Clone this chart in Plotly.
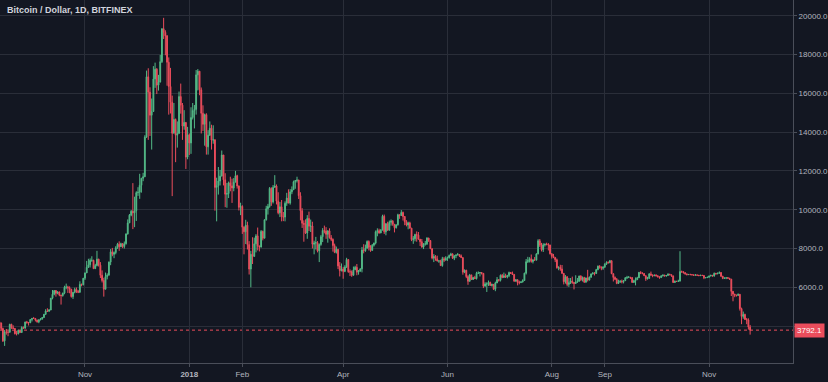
import pandas as pd
import plotly.graph_objects as go

start_date = "2017-09-12"
first_open = 4220

close = [
    # 2017-09 (12..30)
    4160, 3870, 3240, 3700, 3690, 3680, 4090, 3910, 3880, 3610, 3600, 3780, 3670, 3930, 3890, 4210, 4190, 4170, 4340,
    # 2017-10
    4400, 4390, 4310, 4220, 4320, 4370, 4440, 4610, 4780, 4760, 4830, 5440, 5640, 5830, 5690, 5760, 5600, 5570, 5700, 6000,
    6010, 5980, 5900, 5520, 5740, 5890, 5780, 5750, 6150, 6130, 6470,
    # 2017-11
    6740, 7030, 7160, 7390, 7390, 6960, 7120, 7450, 7140, 6620, 6350, 5900, 6550, 6620, 7300, 7830, 7700, 7790, 8040, 8220,
    8090, 8250, 8100, 8250, 8750, 9320, 9720, 9920, 9840, 9950,
    # 2017-12
    10880, 10900, 11260, 11620, 11700, 13740, 16850, 16060, 14870, 15060, 16740, 17240, 16420, 16580, 17630, 19330, 19140,
    18960, 17600, 16350, 15540, 13940, 14650, 13840, 13930, 15830, 15390, 14310, 14500, 12710, 13860,
    # 2018-01
    13440, 14750, 15110, 15170, 16950, 17140, 16180, 14970, 14400, 14900, 13240, 13840, 14200, 13590, 13600, 11150, 11240,
    11480, 11730, 12820, 11540, 10800, 10830, 11390, 11230, 11120, 11420, 11750, 11220, 10120, 10170,
    # 2018-02
    9100, 8860, 9200, 8200, 6940, 7700, 7590, 8240, 8650, 8130, 8070, 8880, 8530, 9480, 10050, 10170, 11100, 10400, 11150,
    11220, 10440, 9840, 10150, 9640, 9620, 10330, 10600, 10340,
    # 2018-03
    10920, 11030, 11440, 11500, 11530, 10720, 9950, 9300, 9250, 8800, 9550, 9150, 9160, 8220, 8280, 8300, 7880, 8210, 8610,
    8930, 8900, 8730, 8910, 8560, 8470, 8150, 7800, 7960, 7100, 6860, 6940,
    # 2018-04
    6820, 7050, 7430, 6800, 6800, 6620, 6900, 7030, 6780, 6840, 6950, 7920, 7890, 8010, 8360, 8060, 7900, 8170, 8280, 8860,
    8920, 8800, 8950, 9660, 8860, 9280, 8940, 9350, 9410, 9250,
    # 2018-05
    9070, 9220, 9740, 9700, 9860, 9650, 9380, 9210, 9320, 9050, 8460, 8500, 8720, 8690, 8480, 8350, 8070, 8240, 8240, 8540,
    8410, 7990, 7510, 7590, 7470, 7350, 7360, 7120, 7470, 7400, 7500,
    # 2018-06
    7530, 7640, 7720, 7500, 7630, 7660, 7690, 7620, 7530, 6780, 6880, 6550, 6310, 6640, 6400, 6500, 6450, 6720, 6740, 6760,
    6720, 6060, 6170, 6170, 6250, 6090, 6150, 5900, 6220, 6390,
    # 2018-07
    6360, 6620, 6510, 6590, 6530, 6610, 6760, 6710, 6660, 6310, 6390, 6250, 6240, 6270, 6350, 6730, 7320, 7380, 7470, 7330,
    7410, 7400, 7720, 8400, 8170, 7940, 8190, 8230, 8210, 8180, 7730,
    # 2018-08
    7600, 7540, 7420, 7010, 7030, 6940, 6720, 6290, 6540, 6150, 6240, 6320, 6250, 6200, 6270, 6310, 6580, 6390, 6500, 6260,
    6480, 6370, 6530, 6690, 6730, 6710, 6910, 7090, 7050, 6980, 7030,
    # 2018-09
    7190, 7280, 7270, 7370, 6700, 6510, 6410, 6200, 6260, 6310, 6290, 6340, 6490, 6500, 6520, 6500, 6250, 6340, 6390, 6490,
    6770, 6720, 6710, 6600, 6440, 6460, 6690, 6640, 6600, 6630,
    # 2018-10
    6590, 6540, 6500, 6590, 6630, 6580, 6610, 6680, 6650, 6590, 6250, 6310, 6300, 6320, 6810, 6800, 6750, 6690, 6650, 6660,
    6650, 6640, 6620, 6640, 6620, 6600, 6620, 6610, 6490, 6500, 6520,
    # 2018-11 (1..25)
    6580, 6620, 6580, 6720, 6690, 6720, 6760, 6570, 6460, 6480, 6490, 6470, 6420, 5790, 5650, 5590, 5580, 5640, 4900, 4500,
    4600, 4340, 4320, 3950, 3792.1,
]

high = [
    # 2017-09
    4380, 4180, 3920, 3800, 3850, 3760, 4120, 4120, 4040, 3900, 3760, 3810, 3790, 3990, 3980, 4230, 4270, 4200, 4360,
    # 2017-10
    4410, 4470, 4420, 4330, 4360, 4410, 4470, 4620, 4870, 4920, 4880, 5450, 5860, 5850, 5860, 5800, 5780, 5610, 5720, 6080,
    6190, 6080, 6050, 5920, 5760, 5980, 5990, 5860, 6310, 6190, 6470,
    # 2017-11
    6760, 7360, 7470, 7490, 7600, 7420, 7210, 7880, 7470, 7300, 6870, 6490, 6760, 6720, 7330, 7970, 8030, 7850, 8120, 8290,
    8370, 8300, 8270, 8360, 8780, 9500, 9780, 9980, 11370, 10670,
    # 2017-12
    10950, 11160, 11850, 11640, 11900, 13840, 17170, 17290, 16310, 15730, 17400, 17580, 17300, 16950, 17980, 19340, 19890,
    19250, 19000, 17850, 17310, 15880, 15500, 14700, 14550, 16090, 16500, 15500, 15130, 14500, 14270,
    # 2018-01
    13930, 15280, 15500, 15400, 17200, 17250, 17140, 16300, 15380, 14950, 14970, 14100, 14550, 14380, 14350, 13630, 11650,
    12200, 12050, 13050, 12820, 11880, 11380, 11450, 11700, 11600, 11630, 12000, 11800, 11250, 10360,
    # 2018-02
    10230, 9150, 9480, 9380, 8380, 7880, 8580, 8560, 8740, 9080, 8150, 8950, 8920, 9500, 10200, 10300, 11170, 11150, 11270,
    11780, 11300, 10900, 10400, 10500, 9880, 10430, 10870, 11050,
    # 2018-03
    11060, 11200, 11500, 11530, 11700, 11540, 10900, 10080, 9450, 9500, 9720, 9900, 9490, 9380, 8400, 8600, 8380, 8260, 8700,
    9050, 9180, 9100, 8930, 9040, 8690, 8520, 8250, 8100, 7960, 7300, 7230,
    # 2018-04
    7050, 7140, 7520, 7440, 6920, 6870, 7070, 7110, 7200, 6890, 6980, 8080, 8220, 8200, 8420, 8420, 8170, 8230, 8300, 8930,
    9040, 9020, 9000, 9740, 9750, 9300, 9380, 9440, 9500, 9460,
    # 2018-05
    9260, 9250, 9790, 9750, 9980, 9900, 9670, 9460, 9380, 9380, 9060, 8640, 8760, 8880, 8850, 8490, 8490, 8270, 8390, 8580,
    8550, 8420, 8000, 7710, 7660, 7630, 7400, 7420, 7570, 7560, 7600,
    # 2018-06
    7580, 7690, 7780, 7750, 7640, 7700, 7770, 7700, 7690, 7540, 6920, 6900, 6620, 6690, 6640, 6540, 6590, 6800, 6820, 6790,
    6780, 6720, 6260, 6260, 6350, 6290, 6190, 6170, 6290, 6530,
    # 2018-07
    6420, 6660, 6690, 6760, 6700, 6640, 6810, 6790, 6810, 6690, 6420, 6400, 6340, 6320, 6410, 6750, 7460, 7570, 7550, 7690,
    7450, 7560, 7760, 8480, 8490, 8290, 8270, 8240, 8300, 8280, 8190,
    # 2018-08
    7760, 7720, 7550, 7480, 7080, 7160, 7150, 6730, 6630, 6570, 6480, 6480, 6550, 6260, 6620, 6480, 6600, 6620, 6560, 6540,
    6500, 6900, 6550, 6710, 6780, 6780, 6950, 7120, 7140, 7070, 7090,
    # 2018-09
    7240, 7340, 7340, 7410, 7390, 6720, 6560, 6480, 6390, 6370, 6400, 6350, 6530, 6590, 6580, 6530, 6510, 6390, 6510, 6540,
    6790, 6830, 6780, 6720, 6600, 6540, 6730, 6810, 6660, 6650,
    # 2018-10
    6670, 6620, 6560, 6620, 6660, 6640, 6630, 6720, 6690, 6650, 6590, 6350, 6330, 6390, 7860, 6860, 6820, 6780, 6710, 6690,
    6700, 6680, 6660, 6680, 6650, 6640, 6640, 6640, 6620, 6520, 6540,
    # 2018-11
    6600, 6640, 6630, 6760, 6740, 6760, 6820, 6790, 6590, 6500, 6510, 6530, 6480, 6430, 5810, 5660, 5620, 5680, 5650, 4950,
    4750, 4640, 4420, 4400, 4060,
]

low = [
    # 2017-09
    4070, 3790, 3180, 2980, 3560, 3480, 3670, 3860, 3860, 3570, 3520, 3580, 3650, 3660, 3870, 3880, 4120, 4030, 4160,
    # 2017-10
    4240, 4370, 4240, 4180, 4150, 4300, 4330, 4430, 4570, 4730, 4760, 4820, 5380, 5590, 5520, 5640, 5540, 5110, 5520, 5640,
    5900, 5710, 5690, 5470, 5400, 5690, 5710, 5700, 5710, 6050, 6100,
    # 2017-11
    6380, 6740, 7000, 7020, 7310, 6950, 6960, 7080, 7070, 6480, 6250, 5520, 5900, 6410, 6620, 7140, 7600, 7500, 7700, 7980,
    7880, 8090, 8020, 8000, 8200, 8720, 9320, 9660, 9000, 9100,
    # 2017-12
    9420, 10710, 10560, 10880, 11470, 11680, 13700, 13600, 13800, 13100, 15060, 16280, 15960, 16140, 16560, 17560, 18800,
    17960, 16390, 14900, 14960, 10700, 13940, 12450, 13200, 13930, 14950, 13600, 14120, 12100, 12600,
    # 2018-01
    12820, 12880, 14650, 14190, 14900, 16150, 15900, 13930, 14060, 13300, 12840, 12840, 13800, 13100, 13400, 9950, 9400,
    10780, 11250, 11730, 11250, 10130, 10100, 10600, 10950, 10350, 10950, 11420, 11090, 9960, 9720,
    # 2018-02
    8750, 7700, 8230, 7950, 6660, 6000, 7200, 7590, 7800, 7900, 7850, 8070, 8420, 8530, 9440, 9750, 10100, 10200, 10320,
    11150, 10270, 9760, 9620, 9400, 9410, 9400, 10200, 10340,
    # 2018-03
    10260, 10800, 11030, 11080, 11400, 10550, 9450, 9060, 8350, 8750, 8500, 8900, 8850, 8000, 7700, 7950, 7800, 7300, 8140,
    8330, 8780, 8500, 8300, 8510, 8380, 7840, 7760, 7740, 6940, 6560, 6820,
    # 2018-04
    6440, 6780, 7000, 6750, 6580, 6540, 6600, 6900, 6620, 6650, 6800, 6770, 7750, 7830, 8010, 7900, 7830, 7900, 8100, 8210,
    8630, 8760, 8790, 8930, 8750, 8680, 8920, 8930, 9180, 9170,
    # 2018-05
    8830, 9030, 9180, 9530, 9680, 9440, 9200, 9140, 8990, 9030, 8380, 8240, 8370, 8350, 8450, 8130, 8060, 7970, 8150, 8180,
    8340, 7970, 7440, 7300, 7370, 7340, 7260, 7100, 7060, 7300, 7380,
    # 2018-06
    7360, 7480, 7620, 7460, 7400, 7500, 7650, 7560, 7520, 6650, 6730, 6470, 6130, 6300, 6380, 6380, 6440, 6400, 6690, 6560,
    6660, 5960, 6040, 5760, 6070, 6080, 6040, 5860, 5800, 6220,
    # 2018-07
    6290, 6300, 6470, 6480, 6480, 6460, 6520, 6690, 6640, 6300, 6300, 6100, 6150, 6230, 6250, 6330, 6660, 7250, 7280, 7270,
    7230, 7380, 7390, 7700, 8080, 7850, 7820, 8100, 8160, 7900, 7690,
    # 2018-08
    7480, 7500, 7300, 6960, 6880, 6850, 6690, 6150, 6190, 6050, 6020, 6170, 6180, 5890, 6170, 6230, 6290, 6320, 6300, 6240,
    6250, 6300, 6360, 6480, 6660, 6610, 6700, 6880, 6960, 6880, 6900,
    # 2018-09
    7020, 7150, 7220, 7240, 6680, 6300, 6370, 6160, 6170, 6250, 6200, 6200, 6330, 6430, 6490, 6430, 6240, 6240, 6100, 6380,
    6480, 6680, 6670, 6580, 6330, 6400, 6450, 6580, 6520, 6570,
    # 2018-10
    6560, 6510, 6440, 6490, 6560, 6570, 6550, 6600, 6620, 6540, 6220, 6230, 6290, 6290, 6300, 6750, 6720, 6660, 6620, 6640,
    6640, 6620, 6590, 6610, 6600, 6580, 6590, 6590, 6420, 6470, 6480,
    # 2018-11
    6500, 6560, 6560, 6550, 6660, 6680, 6700, 6530, 6420, 6450, 6420, 6440, 6380, 5550, 5280, 5490, 5520, 5560, 4800, 4100,
    4380, 4320, 4100, 3820, 3560,
]

y_ticks = [4000, 6000, 8000, 10000, 12000, 14000, 16000, 18000, 20000]
x_tick_dates = ["2017-11-01", "2018-01-01", "2018-02-01", "2018-04-01", "2018-06-01",
                "2018-08-01", "2018-09-01", "2018-11-01"]
x_tick_labels = ["Nov", "<b>2018</b>", "Feb", "Apr", "Jun", "Aug", "Sep", "Nov"]
title_text = "Bitcoin / Dollar, 1D, BITFINEX"
last_price = close[-1]

dates = pd.date_range(start_date, periods=len(close), freq="D")
opens = [first_open] + close[:-1]
assert len(high) == len(close) == len(low), (len(close), len(high), len(low))

UP = "#53b987"
DOWN = "#eb4d5c"
BG = "#131722"
GRID = "#2a2e39"
TXT = "#b2b5be"

fig = go.Figure(go.Candlestick(
    x=dates, open=opens, high=high, low=low, close=close,
    increasing=dict(line=dict(color=UP, width=1), fillcolor=UP),
    decreasing=dict(line=dict(color=DOWN, width=1), fillcolor=DOWN),
    whiskerwidth=0, hoverinfo="skip", showlegend=False,
))

fig.add_shape(type="line", xref="paper", x0=0, x1=1, yref="y", y0=last_price, y1=last_price,
              line=dict(color=DOWN, width=1, dash="dot"), layer="below")

fig.add_annotation(xref="paper", x=1, xanchor="left", yref="y", y=last_price, yanchor="middle",
                   text=f"{last_price:.1f}", showarrow=False,
                   font=dict(family="Liberation Sans, Arial", size=8, color="#ffffff"),
                   bgcolor=DOWN, borderpad=2, xshift=1)

fig.add_annotation(xref="paper", yref="paper", x=0, y=1, xanchor="left", yanchor="top",
                   xshift=5, yshift=-3, text=f"<b>{title_text}</b>", showarrow=False,
                   font=dict(family="Liberation Sans, Arial", size=9, color="#d1d4dc"))

fig.update_layout(
    width=828, height=382,
    margin=dict(l=0, r=35, t=0, b=19),
    paper_bgcolor=BG, plot_bgcolor=BG,
    font=dict(family="Liberation Sans, Arial", size=8, color=TXT),
    xaxis=dict(
        type="date", range=["2017-09-12 07:00", "2018-12-20 02:00"],
        tickvals=x_tick_dates, ticktext=x_tick_labels,
        showgrid=True, gridcolor=GRID, gridwidth=1,
        showline=True, linecolor="#4a4e59", linewidth=1,
        ticks="outside", ticklen=3, tickcolor="#4a4e59",
        tickfont=dict(size=8, color=TXT),
        rangeslider=dict(visible=False), zeroline=False, fixedrange=True,
    ),
    yaxis=dict(
        side="right", range=[2098, 20809],
        tickvals=y_ticks, ticktext=[f"{v:.1f}" for v in y_ticks],
        showgrid=True, gridcolor=GRID, gridwidth=1,
        showline=True, linecolor="#4a4e59", linewidth=1,
        ticks="outside", ticklen=3, tickcolor="#4a4e59",
        tickfont=dict(size=8, color=TXT), zeroline=False, fixedrange=True,
    ),
)

fig.write_html(
    "out.html",
    config={"displayModeBar": False},
    post_script="document.body.style.margin='0px';document.body.style.background='#131722';",
)
